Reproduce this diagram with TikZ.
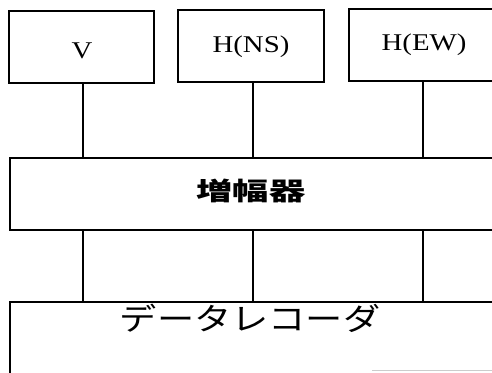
\documentclass[tikz,border=0pt]{standalone}
\usepackage{fontspec}
\setmainfont{Liberation Serif}
\newfontfamily\cjk{Noto Sans CJK JP}
\newcommand{\wide}[2]{\scalebox{#1}[1]{#2}}
\begin{document}
\begin{tikzpicture}[x=1pt,y=-1pt,
  box/.style={draw,line width=1.2pt,inner sep=0pt,minimum width=#1,minimum height=72pt},
  lbl/.style={font=\fontsize{24}{24}\selectfont,inner sep=0pt},
  conn/.style={line width=1.2pt}]
\useasboundingbox (0,0) rectangle (492,372);
\clip (0,0) rectangle (492,372);
% top sensor boxes
\node[box=145pt] (V)  at (81.5,47) {};
\node[box=146pt] (NS) at (251,46) {};
\node[box=150pt] (EW) at (424,45) {};
\node[lbl] (Vt)  at (82,51) {\wide{1.2}{V}};
\node[lbl] (NSt) at (251,47) {\wide{1.2}{H(NS)}};
\node[lbl] (EWt) at (424,45) {\wide{1.2}{H(EW)}};
% amplifier
\node[box=484pt] (amp) at (252,194) {};
\node[font=\cjk\bfseries\fontsize{25}{25}\selectfont,inner sep=0pt] (ampt) at (251,191) {\wide{1.45}{増幅器}};
% data recorder
\node[draw,line width=1.2pt,minimum width=490pt,minimum height=100pt,inner sep=0pt] (rec) at (255,352) {};
\node[font=\cjk\fontsize{31}{31}\selectfont,inner sep=0pt] (rect) at (250,318) {\wide{1.2}{データレコーダ}};
% connectors
\coordinate (c1) at (83,0);
\coordinate (c2) at (253,0);
\coordinate (c3) at (423,0);
\draw[conn] (c1 |- V.south)  -- (c1 |- amp.north);
\draw[conn] (c2 |- NS.south) -- (c2 |- amp.north);
\draw[conn] (c3 |- EW.south) -- (c3 |- amp.north);
\draw[conn] (c1 |- amp.south) -- (c1 |- rec.north);
\draw[conn] (c2 |- amp.south) -- (c2 |- rec.north);
\draw[conn] (c3 |- amp.south) -- (c3 |- rec.north);
% faint bottom edge
\coordinate (f1) at (372,370.5);
\coordinate (f2) at (492,370.5);
\draw[gray!40,line width=1pt] (f1) -- (f2);
\end{tikzpicture}
\end{document}
